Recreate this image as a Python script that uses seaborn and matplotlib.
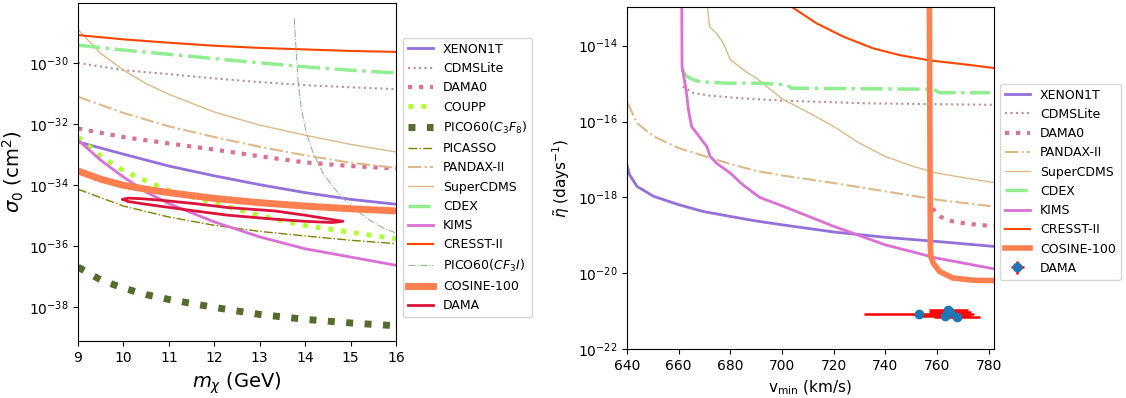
"""
Dark matter exclusion limits: sigma_0 vs WIMP mass and eta-tilde vs v_min
"""

import numpy as np
import matplotlib
matplotlib.use("Agg")
import matplotlib.pyplot as plt
from matplotlib.ticker import FixedLocator, NullLocator
import seaborn as sns

# ---------------- left panel: sigma_0 (log10 cm^2) vs m_chi (GeV) ----------------
m_grid = [9, 10, 11, 12, 13, 14, 15, 16]
m_fine = [9, 9.5, 10, 10.5, 11, 12, 13, 14, 15, 16]

xenon_l = [-32.58, -32.98, -33.37, -33.69, -33.98, -34.24, -34.46, -34.62]
cdmslite_l = [-29.99, -30.23, -30.36, -30.50, -30.62, -30.72, -30.79, -30.85]
dama0_l = [-32.14, -32.42, -32.63, -32.83, -33.05, -33.25, -33.37, -33.45]
coupp_l = [-32.42, -33.05, -33.52, -33.86, -34.17, -34.58, -34.99, -35.32, -35.54, -35.75]
pico_c3f8_l = [-36.68, -37.10, -37.37, -37.58, -37.74, -38.00, -38.23, -38.39, -38.51, -38.60]
picasso_l = [-34.13, -34.68, -35.04, -35.31, -35.51, -35.66, -35.80, -35.91]
pandax_l = [-31.10, -31.63, -32.07, -32.42, -32.74, -33.02, -33.26, -33.43]
supercdms_l = [-28.90, -29.68, -30.23, -30.67, -31.02, -31.60, -32.03, -32.36, -32.66, -32.91]
cdex_l = [-29.41, -29.57, -29.71, -29.85, -29.99, -30.12, -30.23, -30.32]
kims_l = [-32.52, -33.18, -33.73, -34.22, -34.60, -35.20, -35.69, -36.08, -36.35, -36.62]
cresst_l = [-29.08, -29.22, -29.33, -29.43, -29.50, -29.55, -29.60, -29.63]
cosine_l = [-33.53, -33.80, -34.00, -34.13, -34.24, -34.43, -34.57, -34.68, -34.77, -34.84]

pico_cf3i_m = [13.76, 13.80, 13.85, 13.92, 14.03, 14.18, 14.40, 14.62, 14.84, 15.13,
               15.43, 15.72, 15.98]
pico_cf3i_l = [-28.53, -29.57, -30.67, -31.54, -32.30, -32.96, -33.62, -34.06, -34.44,
               -34.82, -35.15, -35.40, -35.55]

dama_m = [9.99, 10.1, 10.4, 10.83, 11.57, 12.3, 13.33, 14.0, 14.5, 14.83,
          14.6, 14.0, 13.33, 12.3, 11.57, 10.83, 10.4, 10.1, 9.99]
dama_l = [-34.46, -34.42, -34.44, -34.49, -34.60, -34.73, -34.84, -34.98, -35.10, -35.18,
          -35.22, -35.18, -35.11, -34.98, -34.84, -34.69, -34.60, -34.53, -34.46]

# ---------------- right panel: eta-tilde (log10 1/day) vs v_min (km/s) ----------------
xenon_v = [640, 641, 643.9, 650.3, 660, 669.5, 680, 690, 700, 720, 740, 760, 782]
xenon_r = [-17.14, -17.40, -17.71, -17.97, -18.19, -18.37, -18.50, -18.62, -18.72,
           -18.91, -19.05, -19.16, -19.29]

cdmslite_v = [661.6, 665.7, 672.2, 684.9, 700.4, 732.6, 782]
cdmslite_r = [-15.08, -15.25, -15.32, -15.39, -15.45, -15.52, -15.56]

dama0_v = [758.3, 759.5, 761, 766, 771.4, 782]
dama0_r = [-18.28, -18.42, -18.50, -18.63, -18.69, -18.76]

pandax_v = [640.3, 643.9, 650.3, 660, 669.6, 680, 690, 700, 720, 740, 760, 782]
pandax_r = [-15.52, -16.04, -16.39, -16.70, -16.90, -17.12, -17.30, -17.42, -17.62,
            -17.84, -18.06, -18.24]

supercdms_v = [671.0, 672, 674.7, 677.3, 680, 686.3, 690, 700, 710.7, 720, 730, 740,
               750.7, 760, 771.4, 782]
supercdms_r = [-12.90, -13.50, -13.68, -13.94, -14.37, -14.70, -14.85, -15.40, -15.78,
               -16.13, -16.57, -16.92, -17.18, -17.36, -17.49, -17.61]

cdex_v = [661.3, 663, 665.7, 668.3, 678.5, 691.4, 701.7, 703.6, 758.5, 761, 780.4]
cdex_r = [-14.64, -14.80, -14.90, -14.95, -14.99, -14.99, -15.03, -15.12, -15.15,
          -15.24, -15.24]

kims_v = [661.2, 661.3, 662.0, 662.9, 663.8, 665.0, 667.0, 670.9, 672.2, 674.7, 680,
          684.9, 691.4, 700, 720, 740, 760, 782]
kims_r = [-12.5, -14.55, -14.82, -15.17, -15.69, -16.13, -16.31, -16.66, -16.92,
          -17.10, -17.36, -17.67, -18.00, -18.22, -18.76, -19.25, -19.60, -19.88]

cresst_v = [702.0, 713.3, 723.6, 735.2, 745.5, 757.2, 771.4, 782]
cresst_r = [-12.90, -13.41, -13.76, -14.07, -14.25, -14.39, -14.50, -14.59]

cosine_v = [757.0, 757.2, 757.4, 757.6, 758.5, 761, 766, 773.8, 782]
cosine_r = [-12.5, -16.0, -19.30, -19.55, -19.73, -19.95, -20.12, -20.18, -20.19]

dama_pts_v = [753.0, 764.4, 763.1, 767.7, 765.0]
dama_pts_r = [-21.07, -20.97, -21.12, -21.16, -21.02]
dama_pts_verr = [21.4, 7.5, 10.0, 9.0, 8.0]

left_ticks = [1e-38, 1e-36, 1e-34, 1e-32, 1e-30]
right_ticks = [1e-22, 1e-20, 1e-18, 1e-16, 1e-14]


def draw(ax, x, logy, label, color, lw, ls='-'):
    sns.lineplot(x=x, y=10.0 ** np.array(logy), ax=ax, color=color, lw=lw,
                 linestyle=ls, label=label, estimator=None, sort=False, legend=False)


sns.set_style("ticks", {"axes.edgecolor": "black", "xtick.color": "black",
                        "ytick.color": "black", "text.color": "black",
                        "axes.labelcolor": "black"})
plt.rcParams['font.family'] = ['DejaVu Sans']
plt.rcParams['lines.solid_capstyle'] = 'projecting'

fig = plt.figure(figsize=(11.26, 3.98), dpi=100)
ax1 = fig.add_axes([0.0693, 0.1432, 0.2824, 0.8492])
ax2 = fig.add_axes([0.5568, 0.1224, 0.3259, 0.8593])

# left panel
draw(ax1, m_grid, xenon_l, 'XENON1T', 'mediumpurple', 2)
draw(ax1, m_grid, cdmslite_l, 'CDMSLite', 'rosybrown', 1.5, ':')
draw(ax1, m_grid, dama0_l, 'DAMA0', 'palevioletred', 3, ':')
draw(ax1, m_fine, coupp_l, 'COUPP', 'greenyellow', 3.5, ':')
draw(ax1, m_fine, pico_c3f8_l, r'PICO60($C_3F_8$)', 'darkolivegreen', 5, ':')
draw(ax1, m_grid, picasso_l, 'PICASSO', 'olive', 1, '-.')
draw(ax1, m_grid, pandax_l, 'PANDAX-II', 'burlywood', 1.5, '-.')
draw(ax1, m_fine, supercdms_l, 'SuperCDMS', 'burlywood', 1)
draw(ax1, m_grid, cdex_l, 'CDEX', 'lightgreen', 2.5, '-.')
draw(ax1, m_fine, kims_l, 'KIMS', 'orchid', 2)
draw(ax1, m_grid, cresst_l, 'CRESST-II', 'orangered', 1.5)
draw(ax1, pico_cf3i_m, pico_cf3i_l, r'PICO60($CF_3I$)', 'darkseagreen', 0.8, '-.')
draw(ax1, m_fine, cosine_l, 'COSINE-100', 'coral', 5)
draw(ax1, dama_m, dama_l, 'DAMA', 'crimson', 2)

ax1.set_yscale('log')
ax1.set_xlim(9, 16)
ax1.set_ylim(10 ** -39.1, 10 ** -28.03)
ax1.yaxis.set_major_locator(FixedLocator(left_ticks))
ax1.yaxis.set_minor_locator(NullLocator())
ax1.set_xlabel(r'$m_\chi$ (GeV)', fontsize=14)
ax1.set_ylabel(r'$\sigma_0$ (cm$^2$)', fontsize=14, labelpad=2)
ax1.tick_params(labelsize=10)
ax1.legend(loc='upper left', bbox_to_anchor=(0.358, 0.905), bbox_transform=fig.transFigure,
           fontsize=9, frameon=True, borderaxespad=0)

# right panel
draw(ax2, xenon_v, xenon_r, 'XENON1T', 'mediumpurple', 2)
draw(ax2, cdmslite_v, cdmslite_r, 'CDMSLite', 'rosybrown', 1.5, ':')
draw(ax2, dama0_v, dama0_r, 'DAMA0', 'palevioletred', 3, ':')
draw(ax2, pandax_v, pandax_r, 'PANDAX-II', 'burlywood', 1.5, '-.')
draw(ax2, supercdms_v, supercdms_r, 'SuperCDMS', 'burlywood', 1)
draw(ax2, cdex_v, cdex_r, 'CDEX', 'lightgreen', 2.5, '-.')
draw(ax2, kims_v, kims_r, 'KIMS', 'orchid', 2)
draw(ax2, cresst_v, cresst_r, 'CRESST-II', 'orangered', 1.5)
draw(ax2, cosine_v, cosine_r, 'COSINE-100', 'coral', 4)

eta = 10.0 ** np.array(dama_pts_r)
ax2.errorbar(dama_pts_v, eta, xerr=dama_pts_verr, yerr=0.08 * eta, fmt='o',
             color='tab:blue', ecolor='red', elinewidth=1.8, markersize=6,
             label='DAMA', zorder=5)

ax2.set_yscale('log')
ax2.set_xlim(640, 782)
ax2.set_ylim(1e-22, 10 ** -12.99)
ax2.yaxis.set_major_locator(FixedLocator(right_ticks))
ax2.yaxis.set_minor_locator(NullLocator())
ax2.set_xlabel(r'v$_{\rm min}$ (km/s)', fontsize=11)
ax2.set_ylabel(r'$\tilde{\eta}$ (days$^{-1}$)', fontsize=11)
ax2.tick_params(labelsize=10)
ax2.legend(loc='upper left', bbox_to_anchor=(0.888, 0.79), bbox_transform=fig.transFigure,
           fontsize=9, frameon=True, borderaxespad=0)

fig.savefig('out.png', dpi=100)
